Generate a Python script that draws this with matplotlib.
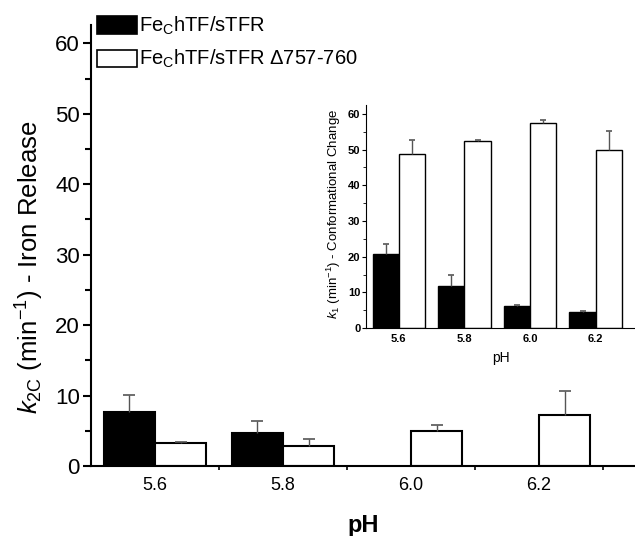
import numpy as np
import matplotlib.pyplot as plt
from matplotlib.patches import Patch
from matplotlib.ticker import MultipleLocator

plt.rcParams["font.family"] = ["Liberation Sans", "DejaVu Sans"]
plt.rcParams["mathtext.fontset"] = "custom"
plt.rcParams["mathtext.rm"] = "Liberation Sans"
plt.rcParams["mathtext.it"] = "Liberation Sans:italic"
plt.rcParams["mathtext.bf"] = "Liberation Sans:bold"

# data
ph = np.array([5.6, 5.8, 6.0, 6.2])
ph_labels = ["5.6", "5.8", "6.0", "6.2"]

# main panel: k2C iron release
k2c_wt = np.array([7.6, 4.7, np.nan, np.nan])
k2c_wt_err = np.array([2.5, 1.7, 0.0, 0.0])
k2c_del = np.array([3.2, 2.8, 5.0, 7.2])
k2c_del_err = np.array([0.15, 1.1, 0.8, 3.4])

# inset: k1 conformational change
k1_wt = np.array([20.7, 11.8, 6.3, 4.6])
k1_wt_err = np.array([2.8, 3.1, 0.2, 0.2])
k1_del = np.array([48.9, 52.3, 57.5, 50.0])
k1_del_err = np.array([3.7, 0.5, 0.7, 5.1])

labels = ["Fe$_\\mathregular{C}$hTF/sTFR", "Fe$_\\mathregular{C}$hTF/sTFR $\\Delta$757-760"]

w = 0.08
errc = "#555555"


def up_err(ax, x, y, e, cap):
    # only the upper half of the error bar, with one cap on top
    _, caps, _ = ax.errorbar(x, y, yerr=[np.zeros(len(y)), e], fmt="none",
                             ecolor=errc, elinewidth=1, capsize=cap, capthick=1.2)
    caps[0].set_visible(False)


def draw_bars(ax, wt, wt_err, dl, dl_err, lw, cap):
    ax.bar(ph - w / 2, wt, w, color="black", edgecolor="black", linewidth=lw)
    ax.bar(ph + w / 2, dl, w, color="white", edgecolor="black", linewidth=lw)
    ok = ~np.isnan(wt)
    up_err(ax, ph[ok] - w / 2, wt[ok], wt_err[ok], cap)
    up_err(ax, ph + w / 2, dl, dl_err, cap)


fig = plt.figure(figsize=(6.35, 5.36), dpi=100)

# main axes
ax = fig.add_axes([0.1433, 0.1306, 0.8567, 0.8228])
draw_bars(ax, k2c_wt, k2c_wt_err, k2c_del, k2c_del_err, 1.5, 4.5)
ax.set_xlim(5.5, 6.35)
ax.set_ylim(0, 62.6)
for s in ["top", "right"]:
    ax.spines[s].set_visible(False)
for s in ["left", "bottom"]:
    ax.spines[s].set_linewidth(1.5)
ax.set_xticks(ph)
ax.set_xticklabels(ph_labels, fontsize=13)
ax.set_xticks([5.7, 5.9, 6.1, 6.3], minor=True)
ax.tick_params(axis="x", which="major", length=0, pad=8)
ax.tick_params(axis="x", which="minor", length=3, width=1.2)
ax.yaxis.set_major_locator(MultipleLocator(10))
ax.yaxis.set_minor_locator(MultipleLocator(5))
ax.tick_params(axis="y", which="major", labelsize=16, length=6, width=1.5, pad=2)
ax.tick_params(axis="y", which="minor", length=4, width=1.5)
ax.set_ylabel("$k_\\mathregular{2C}$ (min$^\\mathregular{-1}$) - Iron Release", fontsize=18.5)
ax.yaxis.set_label_coords(-0.083, 0.45)
ax.set_xlabel("pH", fontsize=17, fontweight="bold", labelpad=14)

handles = [Patch(facecolor="black", edgecolor="black", linewidth=1.2),
           Patch(facecolor="white", edgecolor="black", linewidth=1.2)]
fig.legend(handles, labels, loc="upper left", bbox_to_anchor=(0.133, 0.995),
           frameon=False, fontsize=14.5, handlelength=2.0, handleheight=0.95,
           handletextpad=0.1, labelspacing=0.55, borderaxespad=0.2)

# inset axes
ins = fig.add_axes([0.5764, 0.388, 0.4236, 0.416])
draw_bars(ins, k1_wt, k1_wt_err, k1_del, k1_del_err, 1.0, 2.5)
ins.set_xlim(5.5, 6.32)
ins.set_ylim(0, 62.5)
for s in ["top", "right"]:
    ins.spines[s].set_visible(False)
ins.set_xticks(ph)
ins.set_xticklabels(ph_labels, fontsize=8, fontweight="bold")
ins.tick_params(axis="x", length=0, pad=4)
ins.yaxis.set_major_locator(MultipleLocator(10))
ins.yaxis.set_minor_locator(MultipleLocator(5))
ins.tick_params(axis="y", which="major", labelsize=8, length=3, pad=1)
ins.tick_params(axis="y", which="minor", length=2)
for t in ins.get_yticklabels():
    t.set_fontweight("bold")
ins.set_ylabel("$k_\\mathregular{1}$ (min$^\\mathregular{-1}$) - Conformational Change", fontsize=9.5)
ins.yaxis.set_label_coords(-0.085, 0.51)
ins.set_xlabel("pH", fontsize=10, labelpad=5)

fig.savefig("out.png", dpi=100)
